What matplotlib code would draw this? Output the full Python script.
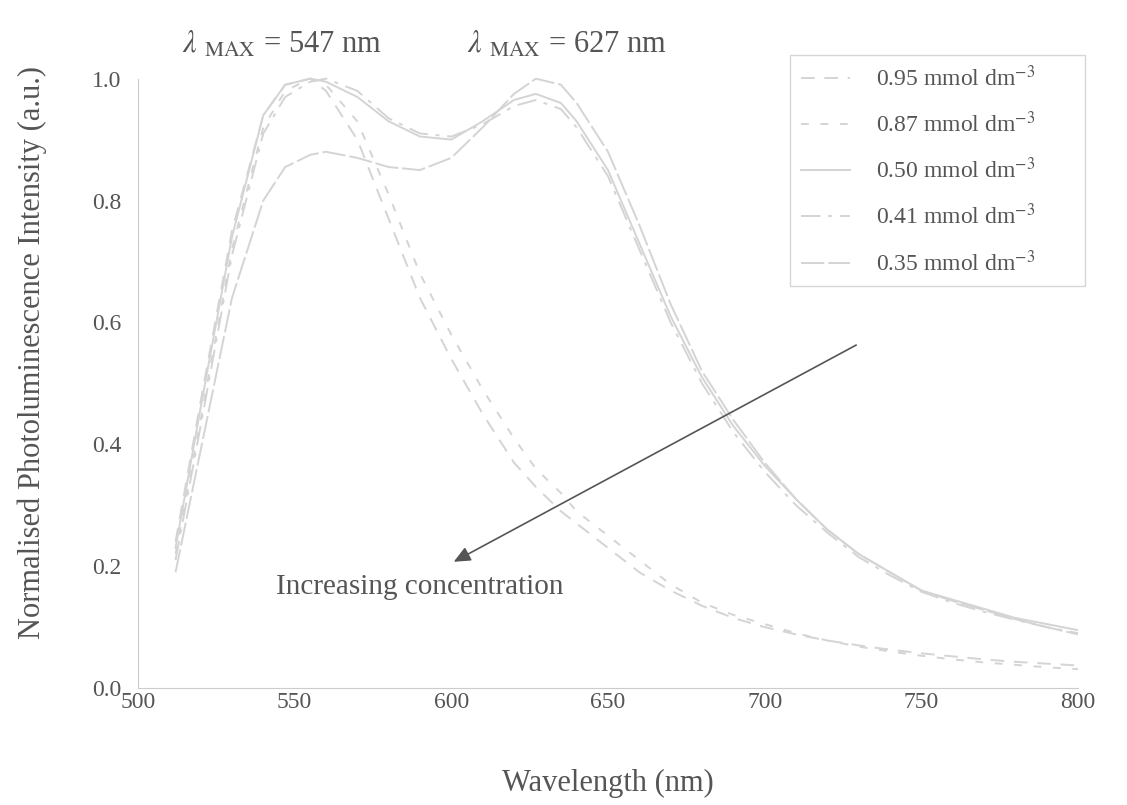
import matplotlib
matplotlib.use("Agg")
import matplotlib.pyplot as plt

plt.rcParams['font.family'] = ['Liberation Serif', 'DejaVu Serif']
plt.rcParams['mathtext.fontset'] = 'stix'

# wavelength grid (nm)
wl = [512, 520, 530, 540, 547, 555, 560, 570, 580, 590, 600, 610, 620, 627,
      635, 640, 650, 660, 670, 680, 690, 700, 710, 720, 730, 740, 750, 760,
      770, 780, 790, 800]

c095 = [0.24, 0.47, 0.75, 0.94, 0.99, 1.00, 0.98, 0.90, 0.77, 0.64, 0.54, 0.45,
        0.37, 0.33, 0.29, 0.27, 0.23, 0.19, 0.16, 0.135, 0.115, 0.10, 0.088,
        0.078, 0.07, 0.063, 0.057, 0.052, 0.047, 0.043, 0.04, 0.037]
c087 = [0.22, 0.44, 0.72, 0.92, 0.98, 1.00, 0.99, 0.93, 0.81, 0.68, 0.58, 0.49,
        0.41, 0.36, 0.32, 0.29, 0.25, 0.21, 0.17, 0.14, 0.12, 0.105, 0.09,
        0.078, 0.068, 0.06, 0.053, 0.047, 0.042, 0.038, 0.034, 0.031]
c050 = [0.23, 0.46, 0.74, 0.94, 0.99, 1.00, 0.995, 0.97, 0.93, 0.905, 0.90,
        0.93, 0.965, 0.975, 0.96, 0.93, 0.85, 0.73, 0.61, 0.51, 0.43, 0.365,
        0.31, 0.26, 0.22, 0.19, 0.16, 0.145, 0.13, 0.115, 0.105, 0.095]
c041 = [0.21, 0.43, 0.71, 0.91, 0.97, 0.995, 1.00, 0.98, 0.935, 0.91, 0.905,
        0.925, 0.955, 0.965, 0.95, 0.92, 0.84, 0.72, 0.60, 0.50, 0.42, 0.355,
        0.30, 0.255, 0.215, 0.185, 0.158, 0.14, 0.125, 0.112, 0.1, 0.09]
c035 = [0.19, 0.39, 0.64, 0.80, 0.855, 0.875, 0.88, 0.87, 0.855, 0.85, 0.87,
        0.92, 0.975, 1.00, 0.99, 0.96, 0.88, 0.76, 0.63, 0.52, 0.44, 0.37,
        0.31, 0.26, 0.22, 0.19, 0.16, 0.143, 0.128, 0.113, 0.1, 0.088]

labels = ['0.95 mmol dm$^{-3}$', '0.87 mmol dm$^{-3}$', '0.50 mmol dm$^{-3}$',
          '0.41 mmol dm$^{-3}$', '0.35 mmol dm$^{-3}$']
series = [c095, c087, c050, c041, c035]
styles = [(0, (7, 5)), (0, (4, 6)), '-', (0, (10, 4, 2, 4)), (0, (12, 2))]

txt = '#555555'
lc = '#d4d4d4'

fig = plt.figure(figsize=(11.27, 8.05), dpi=100)
ax = fig.add_axes([0.1224, 0.1453, 0.8341, 0.8327])

for y, lab, ls in zip(series, labels, styles):
    ax.plot(wl, y, color=lc, lw=1.4, ls=ls, label=lab)

ax.set_xlim(500, 800)
ax.set_ylim(0, 1.1)
ax.set_xticks([500, 550, 600, 650, 700, 750, 800])
ax.set_yticks([0.0, 0.2, 0.4, 0.6, 0.8, 1.0])
ax.set_yticklabels(['0.0', '0.2', '0.4', '0.6', '0.8', '1.0'])
ax.tick_params(labelsize=17, colors=txt, color='#dddddd')
ax.tick_params(axis='x', length=0, pad=3)
ax.tick_params(axis='y', length=0, pad=12)
for s in ['top', 'right']:
    ax.spines[s].set_visible(False)
for s in ['left', 'bottom']:
    ax.spines[s].set_color('#cccccc')
ax.spines['left'].set_bounds(0, 1.0)

ax.set_xlabel('Wavelength (nm)', fontsize=22, color=txt, labelpad=40)
ax.set_ylabel('Normalised Photoluminescence Intensity (a.u.)', fontsize=22,
              color=txt, labelpad=32)

ax.text(514, 1.055, r'$\lambda$ $_{\mathrm{MAX}}$ = 547 nm', fontsize=22,
        color=txt, va='center')
ax.text(605, 1.055, r'$\lambda$ $_{\mathrm{MAX}}$ = 627 nm', fontsize=22,
        color=txt, va='center')

ax.annotate('', xy=(600, 0.205), xytext=(730, 0.565),
            arrowprops=dict(arrowstyle='-|>,head_length=1.0,head_width=0.45',
                            color='#555555', lw=1.2))
ax.text(590, 0.165, 'Increasing concentration', fontsize=21, color=txt,
        ha='center', va='center')

leg = ax.legend(loc='upper left',
                bbox_to_anchor=(790 / 1127, 1 - 292 / 805, 295 / 1127, 237 / 805),
                bbox_transform=fig.transFigure, mode='expand', fontsize=17,
                frameon=True, fancybox=False, edgecolor='#cccccc',
                labelspacing=0.87, handlelength=2.1, borderpad=0.45,
                handletextpad=1.1, borderaxespad=0)
for t in leg.get_texts():
    t.set_color(txt)

fig.savefig('out.png', dpi=100)
